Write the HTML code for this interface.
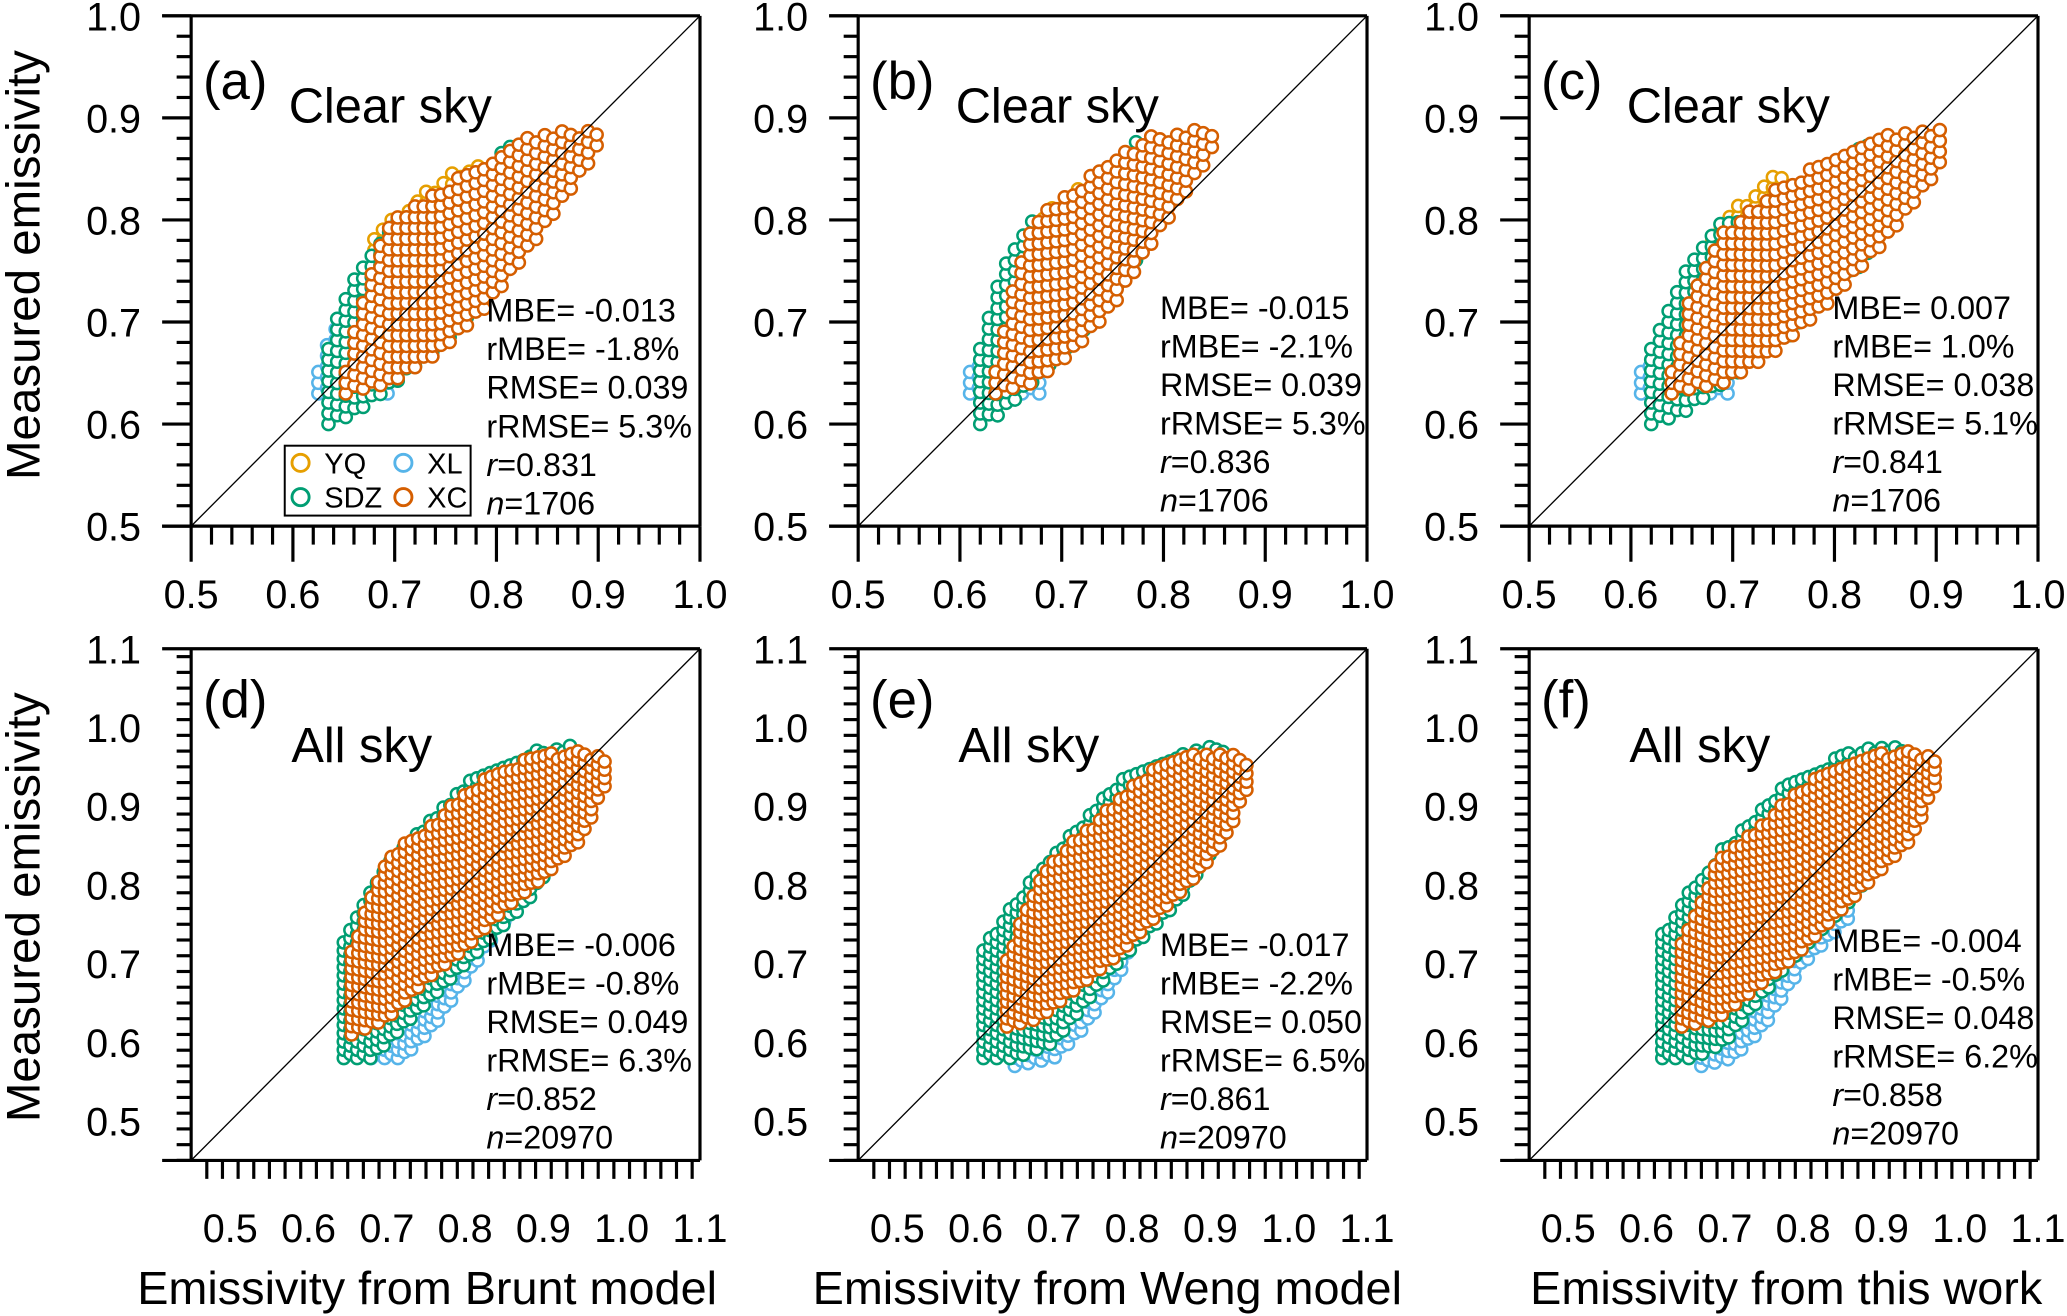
<!DOCTYPE html>
<html><head><meta charset="utf-8"><style>
html,body{margin:0;padding:0;background:#fff;}
svg{display:block;font-family:"Liberation Sans",Arial,sans-serif;}
</style></head><body>
<svg id="fig" width="2067" height="1316" viewBox="0 0 1568 998" preserveAspectRatio="none" xmlns="http://www.w3.org/2000/svg">
<rect x="0" y="0" width="1568" height="998" fill="#fff"/>
</svg>
<script>
// ---- data (envelopes: [x, yLow, yHigh]) ----
const panelIds = ["a","b","c","d","e","f"];
const panelTitles = ["Clear sky","Clear sky","Clear sky","All sky","All sky","All sky"];
const seriesNames = ["XL","YQ","SDZ","XC"];
const seriesColors = ["#56B4E9","#E69F00","#009E73","#D55E00"];
const xTicksTop = [0.5,0.6,0.7,0.8,0.9,1.0];
const yTicksTop = [0.5,0.6,0.7,0.8,0.9,1.0];
const xTicksBot = [0.5,0.6,0.7,0.8,0.9,1.0,1.1];
const yTicksBot = [0.5,0.6,0.7,0.8,0.9,1.0,1.1];
const xTitles = ["Emissivity from Brunt model","Emissivity from Weng model","Emissivity from this work"];
const statMBE = ["-0.013","-0.015","0.007","-0.006","-0.017","-0.004"];
const statRMBE = ["-1.8","-2.1","1.0","-0.8","-2.2","-0.5"];
const statRMSE = ["0.039","0.039","0.038","0.049","0.050","0.048"];
const statRRMSE = ["5.3","5.3","5.1","6.3","6.5","6.2"];
const statR = ["0.831","0.836","0.841","0.852","0.861","0.858"];
const statN = ["1706","1706","1706","20970","20970","20970"];

const envA_XL=[[0.625,0.63,0.66],[0.64,0.63,0.70],[0.66,0.63,0.66],[0.70,0.63,0.67]];
const envA_YQ=[[0.68,0.76,0.79],[0.72,0.78,0.82],[0.76,0.80,0.85],[0.80,0.80,0.86]];
const envA_SDZ=[[0.635,0.60,0.68],[0.66,0.61,0.75],[0.70,0.64,0.80],[0.76,0.69,0.80],[0.82,0.77,0.89]];
const envA_XC=[[0.652,0.63,0.66],[0.67,0.635,0.73],[0.695,0.64,0.80],[0.743,0.67,0.83],[0.79,0.715,0.86],[0.838,0.78,0.885],[0.90,0.87,0.89]];

const envB_XL=[[0.61,0.63,0.66],[0.62,0.63,0.66],[0.64,0.63,0.66],[0.68,0.63,0.67]];
const envB_YQ=[[0.665,0.76,0.79],[0.70,0.78,0.82],[0.74,0.80,0.85],[0.77,0.80,0.86]];
const envB_SDZ=[[0.62,0.60,0.68],[0.64,0.61,0.75],[0.67,0.64,0.80],[0.72,0.69,0.80],[0.78,0.77,0.89]];
const envB_XC=[[0.635,0.63,0.66],[0.65,0.635,0.73],[0.67,0.64,0.80],[0.71,0.67,0.83],[0.75,0.715,0.86],[0.79,0.78,0.885],[0.85,0.87,0.89]];

const envC_XL=[[0.61,0.63,0.66],[0.63,0.63,0.66],[0.66,0.63,0.66],[0.70,0.63,0.67]];
const envC_YQ=[[0.68,0.76,0.79],[0.71,0.78,0.82],[0.75,0.80,0.85]];
const envC_SDZ=[[0.62,0.60,0.68],[0.65,0.61,0.75],[0.69,0.64,0.80],[0.76,0.69,0.81],[0.84,0.77,0.89]];
const envC_XC=[[0.64,0.63,0.66],[0.66,0.635,0.73],[0.69,0.64,0.79],[0.74,0.67,0.83],[0.79,0.715,0.86],[0.85,0.78,0.885],[0.91,0.86,0.89]];

const envD_XL=[[0.68,0.58,0.62],[0.72,0.58,0.66],[0.76,0.62,0.73],[0.80,0.68,0.80],[0.84,0.74,0.84],[0.87,0.78,0.85]];
const envD_SDZ=[[0.645,0.58,0.73],[0.68,0.58,0.80],[0.72,0.62,0.85],[0.80,0.70,0.93],[0.88,0.78,0.97],[0.94,0.87,0.98]];
const envD_XC=[[0.655,0.61,0.72],[0.70,0.63,0.84],[0.75,0.68,0.87],[0.80,0.72,0.92],[0.85,0.77,0.95],[0.90,0.81,0.97],[0.95,0.86,0.97],[0.98,0.93,0.96]];

const envE_XL=[[0.65,0.57,0.62],[0.70,0.58,0.66],[0.74,0.62,0.74],[0.78,0.68,0.80],[0.80,0.72,0.83]];
const envE_SDZ=[[0.61,0.58,0.72],[0.65,0.58,0.78],[0.70,0.60,0.84],[0.78,0.70,0.93],[0.86,0.78,0.97],[0.92,0.87,0.98]];
const envE_XC=[[0.64,0.62,0.71],[0.68,0.63,0.81],[0.73,0.67,0.86],[0.78,0.71,0.91],[0.83,0.76,0.95],[0.88,0.81,0.97],[0.92,0.86,0.97],[0.95,0.93,0.96]];

const envF_XL=[[0.67,0.57,0.62],[0.71,0.58,0.66],[0.75,0.62,0.73],[0.80,0.70,0.80],[0.86,0.76,0.82]];
const envF_SDZ=[[0.62,0.58,0.74],[0.66,0.58,0.80],[0.70,0.60,0.85],[0.78,0.70,0.93],[0.86,0.78,0.97],[0.93,0.87,0.98]];
const envF_XC=[[0.645,0.62,0.73],[0.69,0.63,0.83],[0.74,0.67,0.87],[0.79,0.71,0.92],[0.84,0.76,0.95],[0.89,0.81,0.97],[0.94,0.86,0.97],[0.97,0.93,0.96]];

const envelopes = [
  [envA_XL,envA_YQ,envA_SDZ,envA_XC],
  [envB_XL,envB_YQ,envB_SDZ,envB_XC],
  [envC_XL,envC_YQ,envC_SDZ,envC_XC],
  [envD_XL,[],envD_SDZ,envD_XC],
  [envE_XL,[],envE_SDZ,envE_XC],
  [envF_XL,[],envF_SDZ,envF_XC]
];

// ---- layout ----
const NS="http://www.w3.org/2000/svg";
const svg=document.getElementById('fig');
function mk(tag,attrs,parent){const e=document.createElementNS(NS,tag);for(const k in attrs)e.setAttribute(k,attrs[k]);(parent||svg).appendChild(e);return e;}
const lefts=[145,651,1160];
const panels=[];
for(let i=0;i<6;i++){
  const top=i<3;
  panels.push({L:lefts[i%3],R:lefts[i%3]+386,T:top?12:492,B:top?399:880,
    xmin:top?0.5:0.45,xmax:top?1.0:1.1,ymin:top?0.5:0.45,ymax:top?1.0:1.1,top:top});
}
function interp(env,x,k){
  if(x<=env[0][0])return env[0][k];
  for(let j=1;j<env.length;j++){if(x<=env[j][0]){const t=(x-env[j-1][0])/(env[j][0]-env[j-1][0]);return env[j-1][k]+t*(env[j][k]-env[j-1][k]);}}
  return env[env.length-1][k];
}
panels.forEach((p,i)=>{
  const g=mk('g',{});
  
  
  const sx=v=>p.L+(v-p.xmin)/(p.xmax-p.xmin)*(p.R-p.L);
  const sy=v=>p.B-(v-p.ymin)/(p.ymax-p.ymin)*(p.B-p.T);
  envelopes[i].forEach((env,s)=>{
    if(!env.length)return;
    const sg=mk('g',{fill:'#fff',stroke:seriesColors[s],'stroke-width':1.9},g);
    
    
    const dx=0.0085,dy=0.0105;let c=0;
    for(let x=env[0][0];x<=env[env.length-1][0]+1e-9;x+=dx,c++){
      const lo=interp(env,x,1),hi=interp(env,x,2);
      for(let y=lo+(c%2?dy/2:0);y<=hi+1e-9;y+=dy){
        const pt=mk('circle',{cx:sx(x).toFixed(1),cy:sy(y).toFixed(1),r:4.6},sg);
        
        
      }
    }
  });
  const d=mk('line',{x1:sx(p.xmin),y1:sy(p.ymin),x2:sx(p.xmax),y2:sy(p.ymax),stroke:'#000','stroke-width':1},g);
  
  
  const ax=mk('g',{stroke:'#000','stroke-width':2.4,fill:'none'},g);
  
  
  mk('line',{x1:p.L-22,y1:p.T,x2:p.R,y2:p.T},ax);
  mk('line',{x1:p.L-22,y1:p.B,x2:p.R,y2:p.B},ax);
  mk('line',{x1:p.L,y1:p.T,x2:p.L,y2:p.B},ax);
  mk('line',{x1:p.R,y1:p.T,x2:p.R,y2:p.B},ax);
  const xt=p.top?xTicksTop:xTicksBot, yt=p.top?yTicksTop:yTicksBot;
  for(let v=Math.round(p.xmin*100);v<=Math.round(p.xmax*100);v+=2){
    const major=v%10===0;
    if(v===Math.round(p.xmin*100)&&!major)continue;
    mk('line',{x1:sx(v/100),y1:p.B,x2:sx(v/100),y2:p.B+(major?27:14)},ax);
  }
  for(let v=Math.round(p.ymin*100);v<=Math.round(p.ymax*100);v+=2){
    const major=v%10===0;
    mk('line',{x1:p.L,y1:sy(v/100),x2:p.L-(major?22:11),y2:sy(v/100)},ax);
  }
  const xl=mk('g',{'font-size':30,'text-anchor':'middle',fill:'#000'},g);
  
  
  xt.forEach(v=>{const t=mk('text',{x:sx(v),y:p.B+62},xl);t.textContent=v.toFixed(1);});
  const yl=mk('g',{'font-size':30,'text-anchor':'end',fill:'#000'},g);
  
  
  yt.forEach(v=>{const t=mk('text',{x:p.L-38,y:sy(v)+11},yl);t.textContent=v.toFixed(1);});
  const pl=mk('text',{x:p.L+9,y:p.T+(p.top?63:52),'font-size':40},g);
  
  
  pl.textContent='('+panelIds[i]+')';
  const tt=mk('text',{x:p.L+(p.top?74:76),y:p.T+(p.top?81:86),'font-size':37},g);
  
  
  tt.textContent=panelTitles[i];
  const st=mk('g',{'font-size':24.5,fill:'#000'},g);
  
  
  const sxp=p.L+(i%3===0?224:(i%3===1?229:230));
  const sy0=p.top?(i===0?244:242):(i===5?722:725);
  const lines=['MBE= '+statMBE[i],'rMBE= '+statRMBE[i]+'%','RMSE= '+statRMSE[i],'rRMSE= '+statRRMSE[i]+'%'];
  lines.forEach((s,k)=>{const t=mk('text',{x:sxp,y:sy0+k*29.2},st);t.textContent=s;});
  const tr=mk('text',{x:sxp,y:sy0+4*29.2},st);
  tr.innerHTML='<tspan font-style="italic">r</tspan>='+statR[i];
  const tn=mk('text',{x:sxp,y:sy0+5*29.2},st);
  tn.innerHTML='<tspan font-style="italic">n</tspan>='+statN[i];
});
const lg=mk('g',{});


mk('rect',{x:216,y:338,width:141,height:53,fill:'#fff',stroke:'#000','stroke-width':1.5},lg);
const legPos=[[228,351,'YQ',1],[306,351,'XL',0],[228,377,'SDZ',2],[306,377,'XC',3]];
legPos.forEach(q=>{
  const e=mk('g',{},lg);
  
  
  mk('circle',{cx:q[0],cy:q[1],r:6.5,fill:'#fff',stroke:seriesColors[q[3]],'stroke-width':2.2},e);
  const t=mk('text',{x:q[0]+18,y:q[1]+8,'font-size':22},e);t.textContent=q[2];
});
[[17,201],[17,688]].forEach(c=>{
  const t=mk('text',{x:c[0],y:c[1],'font-size':36,'text-anchor':'middle',transform:'rotate(-90 '+c[0]+' '+c[1]+')',dy:13});
  
  
  t.textContent='Measured emissivity';
});
[324,840,1355].forEach((cx,k)=>{
  const t=mk('text',{x:cx,y:989,'font-size':35.5,'text-anchor':'middle'});
  
  
  t.textContent=xTitles[k];
});
</script>
</body></html>
